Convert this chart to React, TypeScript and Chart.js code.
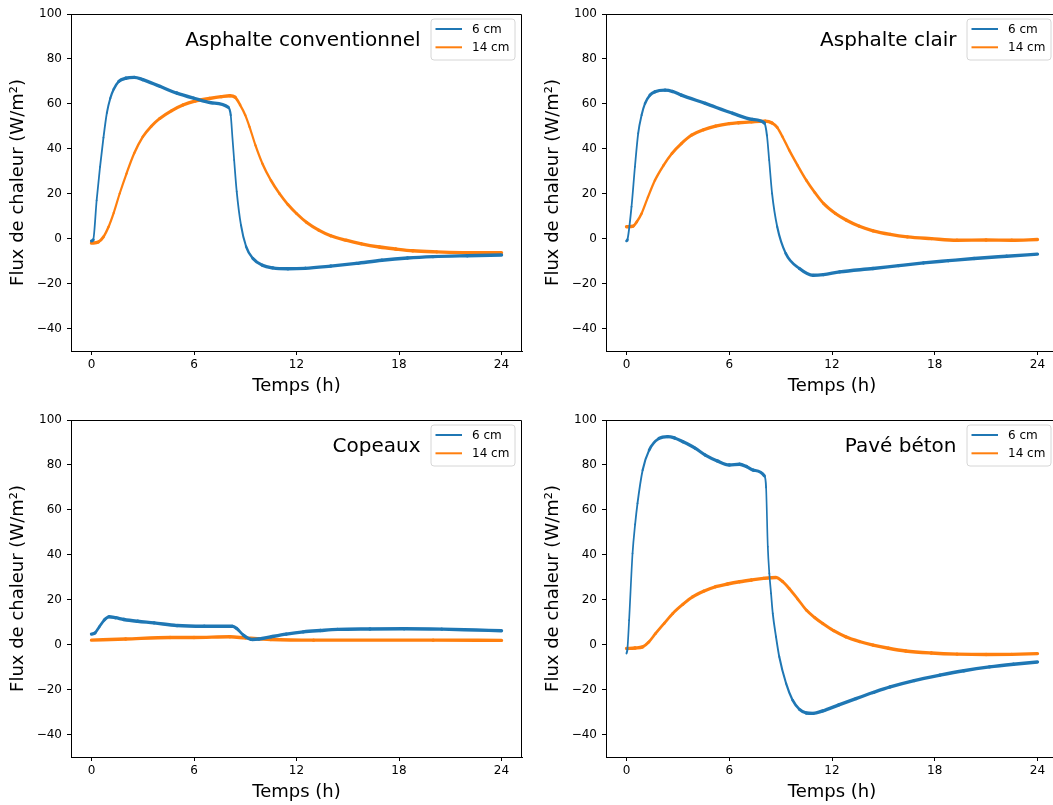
import React, { useEffect, useRef } from 'react';
import { Chart, registerables } from 'chart.js';

Chart.register(...registerables);

const seriesLabels = ['6 cm', '14 cm'];
const seriesColors = ['#1f77b4', '#ff7f0e'];
const xTicks = [0, 6, 12, 18, 24];
const yTicks = [100, 80, 60, 40, 20, 0, -20, -40];
const xLabel = 'Temps (h)';
const yLabel = 'Flux de chaleur (W/m²)';

// Asphalte conventionnel
const conv6Hours = [0, 0.1, 0.3, 0.5, 0.7, 0.9, 1.1, 1.3, 1.6, 2.0, 2.5, 3.0, 4.0, 5.0, 6.0, 7.0, 8.0, 8.15, 8.25, 8.35, 8.5, 8.75, 9.05, 9.45, 10.0, 10.6, 11.5, 12.5, 14.0, 15.5, 17.0, 18.5, 20.0, 22.0, 24.0];
const conv6Values = [-1.0, -0.5, 17, 32, 45, 56, 62.5, 66.5, 70, 71.4, 71.8, 70.8, 67.8, 64.8, 62.5, 60.5, 58.5, 55, 45, 35, 21, 6, -3.5, -8.8, -11.8, -13.0, -13.4, -13.2, -12.2, -11.0, -9.6, -8.6, -8.0, -7.6, -7.3];
const conv14Hours = [0, 0.4, 0.7, 1.0, 1.3, 1.65, 2.05, 2.5, 3.0, 3.5, 4.0, 4.7, 5.35, 6.1, 6.9, 7.6, 8.1, 8.4, 8.7, 9.0, 9.25, 9.6, 10.0, 10.5, 11.0, 11.5, 12.0, 12.6, 13.3, 14.0, 14.9, 15.8, 16.85, 17.8, 18.8, 20.2, 21.7, 24.0];
const conv14Values = [-2.0, -1.5, 0.8, 5.3, 11.5, 20.1, 29, 38, 45.3, 50, 53.5, 57, 59.5, 61.3, 62.4, 63.2, 63.6, 63, 59.5, 55, 49.8, 41.5, 33.5, 26, 20.1, 15.2, 11.2, 7.2, 3.8, 1.3, -0.7, -2.3, -3.7, -4.6, -5.4, -5.9, -6.2, -6.3];

// Asphalte clair
const clair6Hours = [0, 0.05, 0.29, 0.49, 0.68, 0.88, 1.08, 1.37, 1.66, 2.25, 2.7, 3.2, 4.6, 6.2, 7.35, 8.05, 8.2, 8.33, 8.5, 8.8, 9.3, 10.1, 10.9, 11.5, 12.45, 14.4, 15.9, 17.35, 18.8, 20.3, 22.2, 24.0];
const clair6Values = [-1.0, -0.5, 14.2, 32, 46.9, 55, 60.2, 63.9, 65.4, 66.1, 65.5, 63.9, 60.2, 55.8, 53.1, 51.5, 46, 35, 20.1, 5.3, -6.6, -13.3, -16.3, -16.0, -14.8, -13.3, -12.0, -10.8, -9.8, -8.8, -7.8, -6.9];
const clair14Hours = [0, 0.39, 0.6, 0.88, 1.25, 1.66, 2.15, 2.65, 3.2, 3.8, 4.5, 5.2, 6.0, 6.55, 7.3, 8.1, 8.5, 8.8, 9.1, 9.5, 10.0, 10.5, 11.0, 11.5, 12.2, 12.85, 13.6, 14.4, 15.4, 16.4, 17.8, 19.3, 21.0, 22.5, 24.0];
const clair14Values = [5.3, 5.6, 7.5, 11.2, 18.5, 26, 32.5, 37.9, 42.3, 46.1, 48.5, 50.1, 51.2, 51.6, 52, 52.3, 51.5, 49.5, 45.5, 39.4, 32.5, 26, 20.5, 15.7, 11.2, 8.2, 5.5, 3.5, 1.9, 0.8, 0, -0.7, -0.6, -0.7, -0.4];

// Copeaux
const copeaux6Hours = [0, 0.2, 0.45, 0.75, 1.03, 1.4, 1.9, 2.7, 3.66, 5.0, 6.6, 8.24, 8.5, 8.9, 9.4, 9.8, 10.5, 11.4, 12.4, 13.4, 14.4, 16.3, 18.3, 20.5, 22.5, 24.0];
const copeaux6Values = [4.7, 5.2, 7.9, 11, 12.4, 12, 11.2, 10.4, 9.7, 8.5, 8.2, 8.2, 7.2, 4.2, 2.3, 2.5, 3.5, 4.7, 5.7, 6.3, 6.8, 7.0, 7.1, 6.9, 6.5, 6.2];
const copeaux14Hours = [0, 2.0, 4.6, 6.0, 8.1, 9.0, 10.5, 13.0, 16.3, 20.0, 24.0];
const copeaux14Values = [2.0, 2.5, 3.2, 3.2, 3.5, 3.0, 2.3, 2.0, 2.0, 2.0, 1.9];

// Pavé béton
const pave6Hours = [0, 0.05, 0.15, 0.35, 0.5, 0.64, 0.94, 1.32, 1.9, 2.4, 2.8, 3.3, 4.0, 4.6, 5.3, 6.0, 6.6, 7.0, 7.4, 8.05, 8.15, 8.25, 8.34, 8.44, 8.54, 8.73, 8.92, 9.32, 9.7, 10.1, 10.5, 10.9, 11.46, 12.4, 13.4, 14.4, 15.4, 16.8, 18.3, 19.7, 21.2, 22.6, 24.0];
const pave6Values = [-3.9, -2, 10.9, 40.6, 53.5, 62.9, 77.7, 86.6, 91.8, 92.6, 92, 90.3, 87.5, 84.4, 81.8, 80, 80.3, 79.3, 77.7, 75.1, 70, 43.6, 31.7, 22.8, 13.9, 3.5, -5.4, -17.3, -24.7, -28.8, -30.4, -30.6, -29.5, -26.8, -24, -21.3, -18.8, -16, -13.6, -11.6, -9.9, -8.7, -7.7];
const pave14Hours = [0, 0.5, 0.94, 1.3, 1.7, 2.2, 2.7, 3.3, 3.86, 4.5, 5.2, 5.9, 6.6, 7.3, 8.0, 8.73, 9.1, 9.5, 10.0, 10.5, 11.0, 11.46, 12.1, 12.8, 13.6, 14.4, 15.3, 16.3, 17.8, 19.3, 21.0, 22.5, 24.0];
const pave14Values = [-1.7, -1.5, -1.0, 1.2, 5.0, 9.5, 13.9, 18, 21.3, 23.8, 25.8, 27, 28, 28.8, 29.5, 29.9, 28.2, 25, 20.3, 15.4, 12.0, 9.4, 6.2, 3.5, 1.4, -0.2, -1.6, -2.8, -3.7, -4.2, -4.4, -4.3, -4.0];

const panelTitles = ['Asphalte conventionnel', 'Asphalte clair', 'Copeaux', 'Pavé béton'];

const FONT = "'DejaVu Sans', 'Liberation Sans', sans-serif";

const toPoints = (hours: number[], values: number[]) => hours.map((h, i) => ({ x: h, y: values[i] }));

const fmtTick = (v: number) => (v < 0 ? '\u2212' + Math.abs(v) : String(v));

// thinner where the trace is steep (measurement noise only thickens flat parts)
const segWidth = (ctx: any) => {
  const dx = Math.abs(ctx.p1.x - ctx.p0.x);
  const dy = Math.abs(ctx.p1.y - ctx.p0.y);
  const len = Math.sqrt(dx * dx + dy * dy) || 1;
  return 1.6 + 1.8 * (dx / len);
};

const decorPlugin = {
  id: 'panelDecor',
  afterDraw(chart: any, _args: any, opts: any) {
    const { ctx, chartArea: a } = chart;
    ctx.save();
    ctx.strokeStyle = '#000';
    ctx.lineWidth = 1;
    const t = Math.round(a.top) + 0.5;
    const r = Math.round(a.right) - 0.5;
    ctx.beginPath();
    ctx.moveTo(a.left, t);
    ctx.lineTo(r, t);
    ctx.lineTo(r, a.bottom);
    ctx.stroke();

    const boxRight = a.right - 7;
    const boxW = 84;
    const boxLeft = boxRight - boxW;
    const boxTop = a.top + 5;
    const boxH = 41;
    const rad = 3;
    ctx.beginPath();
    ctx.moveTo(boxLeft + rad, boxTop);
    ctx.lineTo(boxRight - rad, boxTop);
    ctx.arcTo(boxRight, boxTop, boxRight, boxTop + rad, rad);
    ctx.lineTo(boxRight, boxTop + boxH - rad);
    ctx.arcTo(boxRight, boxTop + boxH, boxRight - rad, boxTop + boxH, rad);
    ctx.lineTo(boxLeft + rad, boxTop + boxH);
    ctx.arcTo(boxLeft, boxTop + boxH, boxLeft, boxTop + boxH - rad, rad);
    ctx.lineTo(boxLeft, boxTop + rad);
    ctx.arcTo(boxLeft, boxTop, boxLeft + rad, boxTop, rad);
    ctx.closePath();
    ctx.fillStyle = 'rgba(255,255,255,0.8)';
    ctx.fill();
    ctx.strokeStyle = '#d6d6d6';
    ctx.stroke();

    ctx.font = `12px ${FONT}`;
    ctx.textBaseline = 'middle';
    ctx.textAlign = 'left';
    chart.data.datasets.forEach((ds: any, i: number) => {
      const y = boxTop + 10 + i * 18.3;
      ctx.strokeStyle = ds.borderColor;
      ctx.lineWidth = 2;
      ctx.beginPath();
      ctx.moveTo(boxLeft + 4.5, y);
      ctx.lineTo(boxLeft + 31, y);
      ctx.stroke();
      ctx.fillStyle = '#000';
      ctx.fillText(ds.label, boxLeft + 41, y + 0.5);
    });

    ctx.font = `20px ${FONT}`;
    ctx.textAlign = 'right';
    ctx.textBaseline = 'alphabetic';
    ctx.fillStyle = '#000';
    ctx.fillText(opts.title, boxLeft - 10.5, a.top + 32);
    ctx.restore();
  },
};

type PanelProps = {
  left: number;
  top: number;
  width: number;
  title: string;
  h6: number[];
  v6: number[];
  h14: number[];
  v14: number[];
};

function Panel({ left, top, width, title, h6, v6, h14, v14 }: PanelProps) {
  const ref = useRef<HTMLCanvasElement | null>(null);
  const height = 397;
  useEffect(() => {
    if (!ref.current) return;
    const axisCommon = {
      grid: { display: true, drawOnChartArea: false, drawTicks: true, tickLength: 4, color: '#000', lineWidth: 1 },
      border: { display: true, color: '#000', width: 1 },
    };
    const chart = new Chart(ref.current, {
      type: 'line',
      data: {
        datasets: [
          { label: seriesLabels[0], data: toPoints(h6, v6), borderColor: seriesColors[0], backgroundColor: seriesColors[0], segment: { borderWidth: segWidth } },
          { label: seriesLabels[1], data: toPoints(h14, v14), borderColor: seriesColors[1], backgroundColor: seriesColors[1], segment: { borderWidth: segWidth } },
        ],
      },
      options: {
        animation: false,
        responsive: false,
        devicePixelRatio: 1,
        layout: { padding: { top: 14, right: 8, left: 0, bottom: 0 } },
        elements: {
          point: { radius: 0, hoverRadius: 0 },
          line: { borderWidth: 2.5, cubicInterpolationMode: 'monotone', fill: false, borderCapStyle: 'round', borderJoinStyle: 'round' },
        },
        plugins: {
          legend: { display: false },
          tooltip: { enabled: false },
          panelDecor: { title },
        } as any,
        scales: {
          x: {
            type: 'linear',
            min: -1.2,
            max: 25.2,
            ...axisCommon,
            afterBuildTicks: (s: any) => {
              s.ticks = xTicks.map((v) => ({ value: v }));
            },
            afterFit: (s: any) => {
              s.height = 46;
            },
            ticks: {
              color: '#000',
              font: { family: FONT, size: 12 },
              padding: 3,
              maxRotation: 0,
              autoSkip: false,
              callback: (v: any) => fmtTick(Number(v)),
            },
            title: { display: true, text: xLabel, color: '#000', font: { family: FONT, size: 18 }, padding: 0 },
          },
          y: {
            type: 'linear',
            min: -50,
            max: 100,
            ...axisCommon,
            afterBuildTicks: (s: any) => {
              s.ticks = yTicks.map((v) => ({ value: v }));
            },
            afterFit: (s: any) => {
              s.width = 71;
            },
            ticks: {
              color: '#000',
              font: { family: FONT, size: 12 },
              padding: 5,
              autoSkip: false,
              callback: (v: any) => fmtTick(Number(v)),
            },
            title: { display: true, text: yLabel, color: '#000', font: { family: FONT, size: 18 }, padding: { top: 8, bottom: 0 } },
          },
        },
      } as any,
      plugins: [decorPlugin],
    });
    return () => chart.destroy();
  }, [title, h6, v6, h14, v14]);
  return (
    <canvas
      ref={ref}
      width={width}
      height={height}
      style={{ position: 'absolute', left, top, width, height }}
    />
  );
}

export default function App() {
  return (
    <div
      style={{
        position: 'fixed',
        left: 0,
        top: 0,
        width: 1053,
        height: 805,
        overflow: 'hidden',
        background: '#fff',
      }}
    >
      <Panel left={0} top={0} width={530} title={panelTitles[0]} h6={conv6Hours} v6={conv6Values} h14={conv14Hours} v14={conv14Values} />
      <Panel left={535} top={0} width={531} title={panelTitles[1]} h6={clair6Hours} v6={clair6Values} h14={clair14Hours} v14={clair14Values} />
      <Panel left={0} top={406} width={530} title={panelTitles[2]} h6={copeaux6Hours} v6={copeaux6Values} h14={copeaux14Hours} v14={copeaux14Values} />
      <Panel left={535} top={406} width={531} title={panelTitles[3]} h6={pave6Hours} v6={pave6Values} h14={pave14Hours} v14={pave14Values} />
    </div>
  );
}
